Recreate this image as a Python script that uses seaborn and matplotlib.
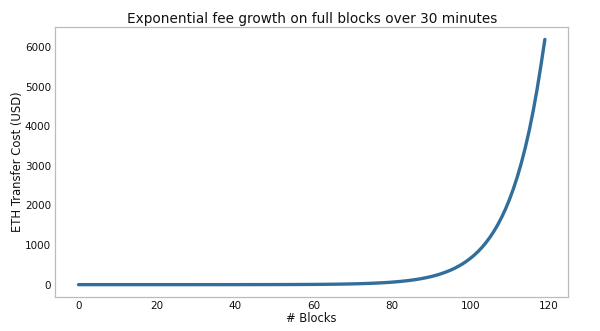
import matplotlib
matplotlib.use("Agg")
import matplotlib.pyplot as plt
import seaborn as sns
import pandas as pd

# Values (block index vs ETH transfer cost in USD)
blocks = list(range(120))
cost_usd = [
    0.005, 0.006, 0.007, 0.008, 0.009, 0.010, 0.011, 0.012, 0.014, 0.016,
    0.018, 0.020, 0.022, 0.025, 0.028, 0.032, 0.036, 0.040, 0.045, 0.051,
    0.057, 0.064, 0.072, 0.081, 0.091, 0.10, 0.12, 0.13, 0.15, 0.16,
    0.18, 0.21, 0.23, 0.26, 0.29, 0.33, 0.37, 0.42, 0.47, 0.53,
    0.60, 0.67, 0.75, 0.85, 0.95, 1.07, 1.2, 1.35, 1.5, 1.7,
    1.9, 2.1, 2.4, 2.7, 3.0, 3.4, 3.8, 4.3, 4.8, 5.4,
    6.1, 6.8, 7.7, 8.6, 9.7, 10.9, 12.3, 13.8, 15.5, 17.5,
    19.7, 22, 25, 28, 31, 35, 40, 45, 50, 56,
    63, 71, 80, 90, 101, 114, 128, 144, 162, 182,
    205, 230, 259, 292, 328, 369, 415, 467, 525, 591,
    665, 748, 841, 946, 1065, 1198, 1348, 1516, 1706, 1919,
    2159, 2429, 2732, 3074, 3458, 3890, 4377, 4924, 5539, 6190,
]

df = pd.DataFrame({"block": blocks, "cost": cost_usd})

sns.set_style("white")
plt.rcParams["font.family"] = ["DejaVu Sans"]

fig, ax = plt.subplots(figsize=(6.0, 3.31), dpi=100)
sns.lineplot(data=df, x="block", y="cost", ax=ax, color="#326e9b", linewidth=2.4)

ax.set_title("Exponential fee growth on full blocks over 30 minutes",
             fontsize=9.8, pad=3, color="#111111")
ax.set_xlabel("# Blocks", fontsize=8.3, labelpad=1, color="#111111")
ax.set_ylabel("ETH Transfer Cost (USD)", fontsize=8.4, labelpad=1, color="#111111")
ax.tick_params(axis="both", labelsize=7.5, length=0, pad=3, labelcolor="#111111")
ax.set_xticks([0, 20, 40, 60, 80, 100, 120])
ax.set_yticks([0, 1000, 2000, 3000, 4000, 5000, 6000])
for s in ax.spines.values():
    s.set_color("#bbbbbb")
    s.set_linewidth(0.9)

fig.subplots_adjust(left=0.092, right=0.947, top=0.918, bottom=0.103)
fig.savefig("out.png", dpi=100)
